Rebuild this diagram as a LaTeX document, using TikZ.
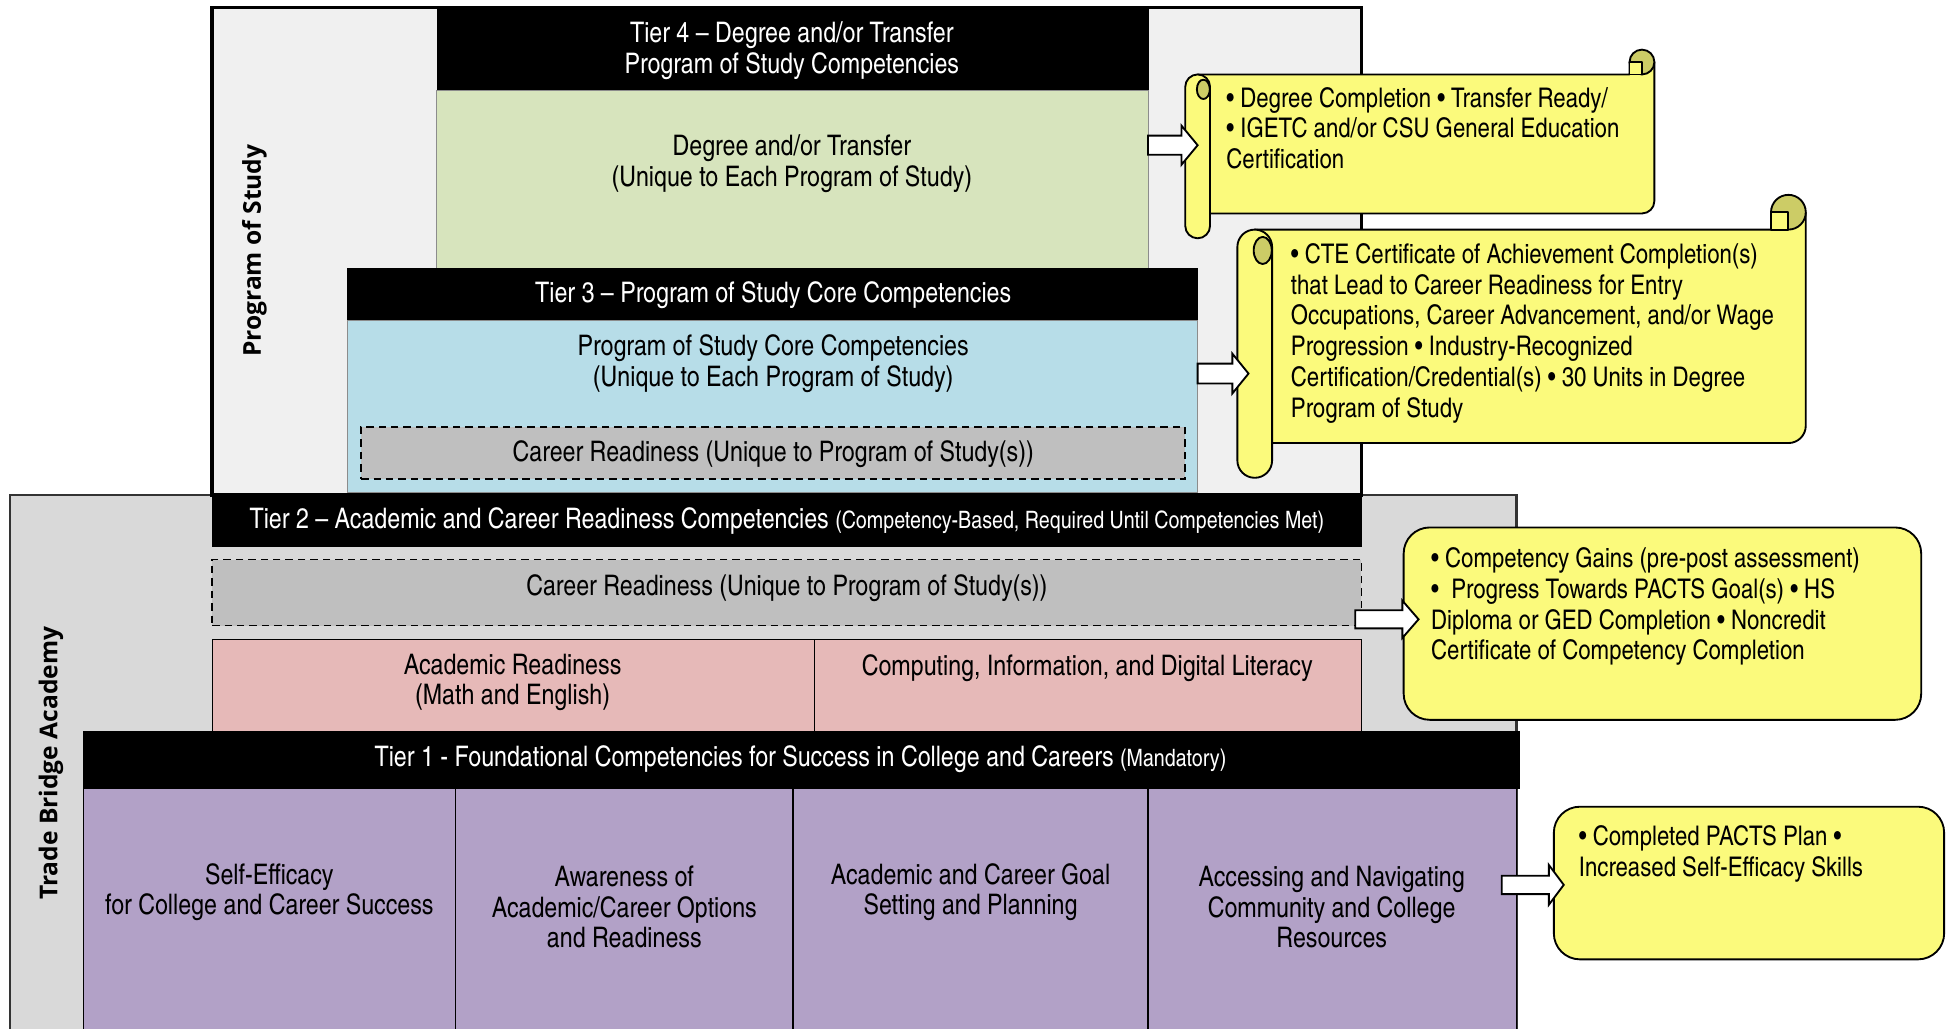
\documentclass[tikz,border=0pt]{standalone}
\usepackage{fontspec}
\setmainfont{texgyreheroscn}[Extension=.otf, UprightFont=*-regular, BoldFont=*-bold, ItalicFont=*-italic, BoldItalicFont=*-bolditalic]
\newfontfamily\sidefont{Open Sans}
\usetikzlibrary{calc}
\definecolor{posbg}{HTML}{F0F0F0}
\definecolor{tbabg}{HTML}{D9D9D9}
\definecolor{tfourgreen}{HTML}{D7E4BD}
\definecolor{tthreeblue}{HTML}{B7DDE8}
\definecolor{crgray}{HTML}{BFBFBF}
\definecolor{ttwopink}{HTML}{E6B9B8}
\definecolor{tonepurple}{HTML}{B2A1C7}
\definecolor{callout}{HTML}{FBFA7C}
\definecolor{curl}{HTML}{CCCC66}
\tikzset{
  box/.style={anchor=north west, inner sep=0pt, outer sep=0pt},
  hdr/.style={box, fill=black, draw=black},
  lbl/.style={inner sep=0pt, align=center, font=\fontsize{22.8}{24.5}\selectfont},
  wlbl/.style={lbl, text=white},
  dashbox/.style={box, fill=crgray, draw=black, line width=1.2pt, dash pattern=on 6pt off 4pt},
  cell/.style={box, draw=black, line width=1pt},
  side/.style={inner sep=0pt, rotate=90, font=\sidefont\bfseries\fontsize{19.8}{22}\selectfont},
  ctext/.style={anchor=north west, inner sep=0pt, align=left, font=\fontsize{21.8}{24.8}\selectfont},
  scrollline/.style={draw=black, line width=1.5pt, line join=round},
  blockarr/.style={draw=black, fill=white, line width=1.5pt, line join=miter},
  roundcall/.style={draw=black, fill=callout, line width=1.5pt, rounded corners=21pt}
}
\newcommand\smallpar{\fontsize{19.3}{22}\selectfont}
% #1 start, #2 tip, #3 shaft half height, #4 head half height, #5 head length
\newcommand\blockarrow[5]{%
  \draw[blockarr] let \p1=(#1), \p2=(#2) in
    (\x1,{\y1+#3}) -- ({\x2-#5},{\y1+#3}) -- ({\x2-#5},{\y1+#4}) -- (\x2,\y1)
    -- ({\x2-#5},{\y1-#4}) -- ({\x2-#5},{\y1-#3}) -- (\x1,{\y1-#3}) -- cycle;}
% horizontal scroll: X0 Y0 X1 Y1 s h(=s/2)
\newcommand\hscroll[6]{%
  \path[scrollline, fill=callout] ({#1+#6},{#2+#5}) -- ({#3-#5},{#2+#5}) -- ({#3-#5},{#2+#6})
     -- (#3,{#2+#6}) [rounded corners=#6pt] -- (#3,{#4-#5}) -- ({#1+#6},{#4-#5}) [sharp corners] -- cycle;
  \path[scrollline, fill=curl] ({#3-#6},{#2+#6}) circle[radius=#6];
  \path[scrollline, fill=callout] ({#3-#5},{#2+#6}) rectangle ({#3-#6},{#2+#5});
  \path[scrollline, fill=callout, rounded corners=#6pt] (#1,{#2+#5}) rectangle ({#1+#5},#4);
  \path[scrollline, fill=curl] ({#1+0.73*#5},{#2+1.6*#5}) ellipse[x radius={0.26*#5}, y radius={0.39*#5}];
}
\begin{document}
\begin{tikzpicture}[x=1pt, y=-1pt]
\useasboundingbox (0,0) rectangle (1568,829);
\fill[white] (0,0) rectangle (1568,829);

% outer regions
\node[box, fill=tbabg, draw=black!80, line width=2pt, minimum width=1214pt, minimum height=450pt] (tba) at (8,399) {};
\node[box, fill=posbg, draw=black, line width=3pt, minimum width=926pt, minimum height=393pt] (pos) at (171,6) {};
\node[side] (poslbl) at (205,202) {Program of Study};
\node[side] (tbalbl) at (41,615) {Trade Bridge Academy};

% Tier 4
\node[hdr, minimum width=573pt, minimum height=66pt] (t4h) at (352,7.5) {};
\node[wlbl] at (638,41) {Tier 4 – Degree and/or Transfer\\Program of Study Competencies};
\node[box, fill=tfourgreen, draw=black!45, line width=0.8pt, minimum width=573pt, minimum height=143pt] (t4b) at (352,73) {};
\node[lbl] at (638,132) {Degree and/or Transfer\\(Unique to Each Program of Study)};

% Tier 3
\node[hdr, minimum width=685pt, minimum height=42pt] (t3h) at (280,216) {};
\node[wlbl] at (623,238) {Tier 3 – Program of Study Core Competencies};
\node[box, fill=tthreeblue, draw=black!45, line width=0.8pt, minimum width=685pt, minimum height=139pt] (t3b) at (280,258) {};
\node[lbl] at (623,293) {Program of Study Core Competencies\\(Unique to Each Program of Study)};
\node[dashbox, minimum width=664pt, minimum height=42pt] (cr3) at (291,344) {};
\node[lbl] at (623,366) {Career Readiness (Unique to Program of Study(s))};

% Tier 2
\node[hdr, minimum width=926pt, minimum height=42pt] (t2h) at (171,398) {};
\node[wlbl] at (634,420) {Tier 2 – Academic and Career Readiness Competencies {\smallpar (Competency-Based, Required Until Competencies Met)}};
\node[dashbox, minimum width=926pt, minimum height=53pt] (cr2) at (171,451) {};
\node[lbl] at (634,474) {Career Readiness (Unique to Program of Study(s))};
\node[cell, fill=ttwopink, minimum width=485pt, minimum height=75pt] (acad) at (171,515) {};
\node[cell, fill=ttwopink, minimum width=441pt, minimum height=75pt] (comp) at (656,515) {};
\node[lbl] at (413,550) {Academic Readiness\\(Math and English)};
\node[lbl] at (876,538) {Computing, Information, and Digital Literacy};

% Tier 1
\node[hdr, minimum width=1157pt, minimum height=46pt] (t1h) at (67,589) {};
\node[wlbl] at (645,612) {Tier 1 - Foundational Competencies for Success in College and Careers {\smallpar (Mandatory)}};
\node[cell, fill=tonepurple, minimum width=300pt, minimum height=220pt] (p1) at (67,635) {};
\node[cell, fill=tonepurple, minimum width=272pt, minimum height=220pt] (p2) at (367,635) {};
\node[cell, fill=tonepurple, minimum width=286pt, minimum height=220pt] (p3) at (639,635) {};
\node[cell, fill=tonepurple, minimum width=297pt, minimum height=220pt] (p4) at (925,635) {};
\node[lbl] at (217,719) {Self-Efficacy\\for College and Career Success};
\node[lbl] at (503,731) {Awareness of\\Academic/Career Options\\and Readiness};
\node[lbl] at (782,719) {Academic and Career Goal\\Setting and Planning};
\node[lbl] at (1073,731) {Accessing and Navigating\\Community and College\\Resources};

% callouts
\hscroll{955}{40}{1333}{192}{20}{10}
\node[ctext] (s1) at (988,70) {• Degree Completion • Transfer Ready/\\• IGETC and/or CSU General Education\\Certification};
\hscroll{997}{157}{1455}{385}{28}{14}
\node[ctext] (s2) at (1040,196) {• CTE Certificate of Achievement Completion(s)\\that Lead to Career Readiness for Entry\\Occupations, Career Advancement, and/or Wage\\Progression • Industry-Recognized\\Certification/Credential(s) • 30 Units in Degree\\Program of Study};
\draw[roundcall] (1131,425) rectangle (1548,580);
\node[ctext] (b3) at (1153,441) {• Competency Gains (pre-post assessment)\\•\ \ Progress Towards PACTS Goal(s) • HS\\Diploma or GED Completion • Noncredit\\Certificate of Competency Completion};
\draw[roundcall] (1252,650) rectangle (1566.5,773);
\node[ctext] (b4) at (1272,665) {• Completed PACTS Plan •\\Increased Self-Efficacy Skills};

% block arrows
\coordinate (a1s) at (925,117);  \coordinate (a1e) at (965,117);
\coordinate (a2s) at (965,301);  \coordinate (a2e) at (1006,301);
\coordinate (a3s) at (1092,499); \coordinate (a3e) at (1143,499);
\coordinate (a4s) at (1210,713); \coordinate (a4e) at (1260,713);
\blockarrow{a1s}{a1e}{7.7pt}{15.7pt}{13pt}
\blockarrow{a2s}{a2e}{8pt}{16pt}{13pt}
\blockarrow{a3s}{a3e}{7.3pt}{15pt}{13pt}
\blockarrow{a4s}{a4e}{7.4pt}{16pt}{12pt}
\end{tikzpicture}
\end{document}
